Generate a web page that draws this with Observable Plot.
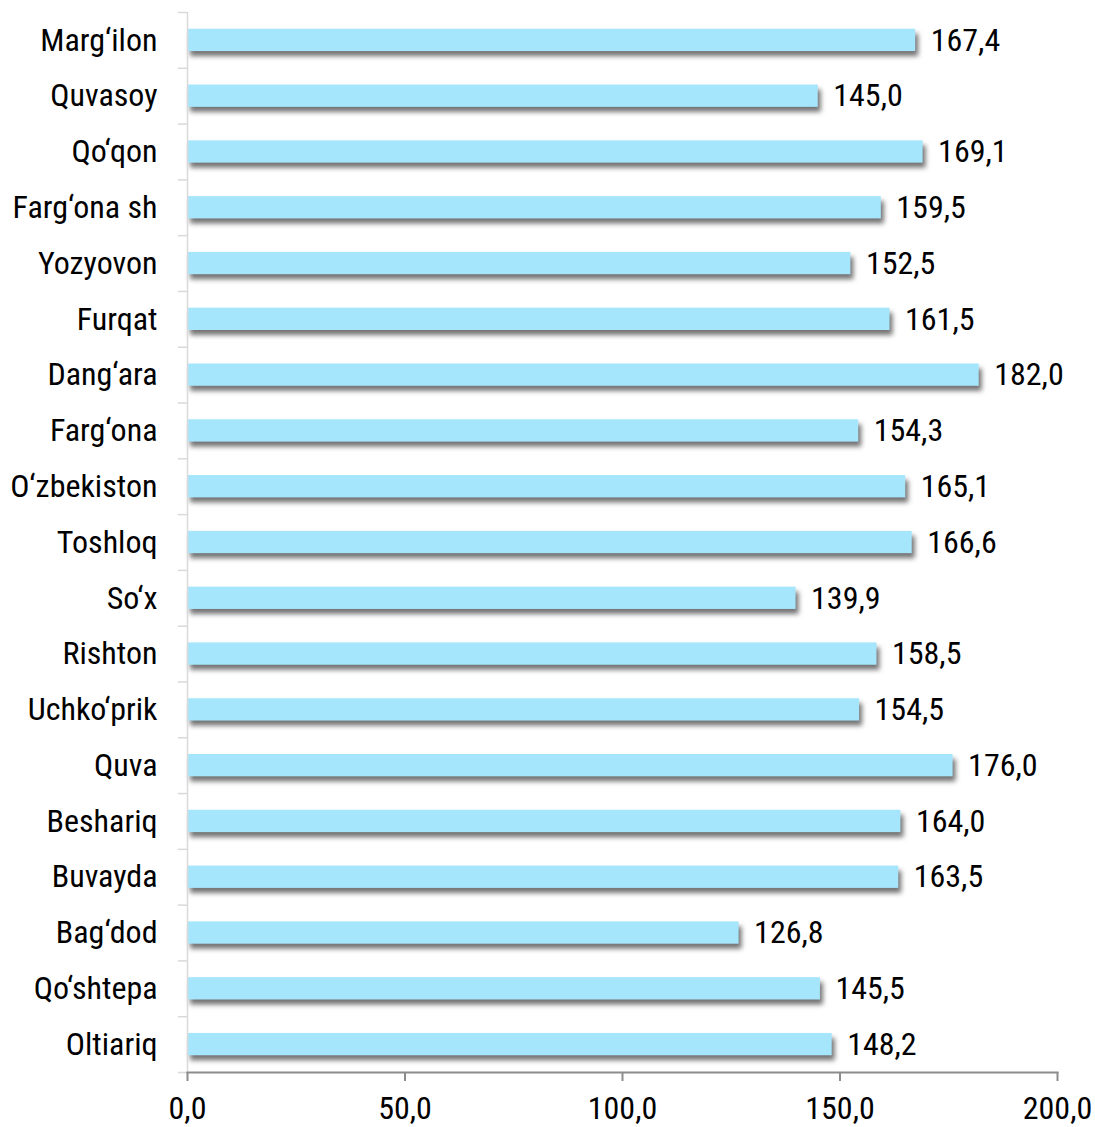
<!DOCTYPE html>
<html>
<head>
<meta charset="utf-8">
<script src="https://cdn.jsdelivr.net/npm/d3@7"></script>
<script src="https://cdn.jsdelivr.net/npm/@observablehq/plot@0.6"></script>
<style>
  html, body { margin: 0; padding: 0; background: #fff; }
  svg text { font-family: "Roboto Condensed", "Liberation Sans Narrow", "DejaVu Sans Condensed", Roboto, sans-serif; }
</style>
</head>
<body>
<div id="chart"></div>
<script>
const categories = ["Marg‘ilon","Quvasoy","Qo‘qon","Farg‘ona sh","Yozyovon","Furqat","Dang‘ara","Farg‘ona","O‘zbekiston","Toshloq","So‘x","Rishton","Uchko‘prik","Quva","Beshariq","Buvayda","Bag‘dod","Qo‘shtepa","Oltiariq"];
const values = [167.4,145.0,169.1,159.5,152.5,161.5,182.0,154.3,165.1,166.6,139.9,158.5,154.5,176.0,164.0,163.5,126.8,145.5,148.2];
const xTicks = [0,50,100,150,200];

const data = categories.map((c,i) => ({name: c, value: values[i]}));
const fmt = d => d.toFixed(1).replace(".", ",");

const W = 1095, H = 1127;
const mTop = 12, mBottom = 55, mLeft = 187, mRight = 38;
const step = (H - mTop - mBottom) / categories.length;
const FS = 32;

const plot = Plot.plot({
  width: W, height: H,
  marginTop: mTop, marginBottom: mBottom, marginLeft: mLeft, marginRight: mRight,
  style: {fontSize: FS + "px", color: "#000", background: "#fff"},
  x: {domain: [0, 200], ticks: xTicks},
  y: {domain: categories, paddingInner: 0.6, paddingOuter: 0.3, align: 0.5, round: false},
  marks: [
    Plot.barX(data, {x: "value", y: "name", fill: "#a6e6fc"}),
    Plot.ruleX([0], {stroke: "#d9d9d9", strokeWidth: 1.5}),
    Plot.ruleY(categories, {y: d => d, x1: -2.1, x2: 0, dy: -step/2, stroke: "#d9d9d9", strokeWidth: 1.5}),
    Plot.ruleY(categories.slice(-1), {y: d => d, x1: -2.1, x2: 0, dy: step/2, stroke: "#d9d9d9", strokeWidth: 1.5}),
    Plot.frame({anchor: "bottom", stroke: "#8c8c8c", strokeWidth: 2}),
    Plot.axisX({ticks: xTicks, tickFormat: fmt, tickSize: 9, tickPadding: 15, stroke: "#8c8c8c", strokeWidth: 2, fontSize: FS, label: null}),
    Plot.axisY({tickSize: 0, tickPadding: 30, fontSize: FS, label: null}),
    Plot.text(data, {x: "value", y: "name", text: d => fmt(d.value), textAnchor: "start", dx: 15, fontSize: FS, fill: "#000"})
  ]
});
d3.select(plot).selectAll('g[aria-label="bar"] rect')
  .style("filter", "drop-shadow(3px 5px 2.5px rgba(0,0,0,0.55))");
document.getElementById("chart").appendChild(plot);
</script>
</body>
</html>
